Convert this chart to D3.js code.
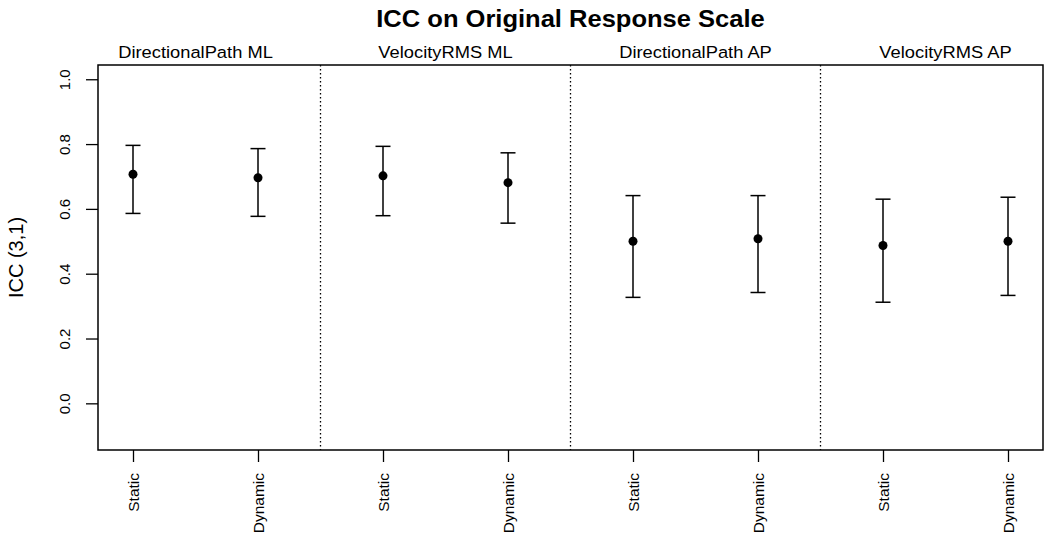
<!DOCTYPE html>
<html>
<head>
<meta charset="utf-8">
<script src="https://cdn.jsdelivr.net/npm/d3@7"></script>
<style>
  body { margin: 0; background: #fff; }
  text { font-family: "Liberation Sans", Arial, Helvetica, sans-serif; fill: #000; }
</style>
</head>
<body>
<div id="vis"></div>
<script>
// Chart data
const panels = ["DirectionalPath ML", "VelocityRMS ML", "DirectionalPath AP", "VelocityRMS AP"]
const conditions = ["Static", "Dynamic", "Static", "Dynamic", "Static", "Dynamic", "Static", "Dynamic"]
const icc = [0.707, 0.696, 0.702, 0.681, 0.500, 0.508, 0.487, 0.500]
const lower = [0.586, 0.577, 0.579, 0.556, 0.327, 0.342, 0.312, 0.333]
const upper = [0.796, 0.786, 0.793, 0.773, 0.641, 0.641, 0.630, 0.636]
const yTicks = [0.0, 0.2, 0.4, 0.6, 0.8, 1.0]
const dividers = [2.5, 4.5, 6.5]

const W = 1050, H = 537
const box = {left: 98, top: 65, right: 1043, bottom: 450}

// R style 4% padding around xlim c(1,8) and ylim c(-0.1,1)
const x = d3.scaleLinear().domain([0.72, 8.28]).range([box.left, box.right])
const y = d3.scaleLinear().domain([-0.144, 1.044]).range([box.bottom, box.top])

const svg = d3.select("#vis").append("svg")
    .attr("width", W)
    .attr("height", H)

// horizontal text in the original is slightly wider than Arial
const stretch = 1.11

// title
svg.append("text")
    .attr("transform", `translate(${(box.left + box.right) / 2},27) scale(${stretch},1)`)
    .attr("text-anchor", "middle")
    .style("font-size", "23px")
    .style("font-weight", "bold")
    .text("ICC on Original Response Scale")

// panel labels
svg.selectAll(".panel")
    .data(panels)
    .enter()
    .append("text")
    .attr("transform", (d, i) => `translate(${x(2 * i + 1.5)},58) scale(${stretch},1)`)
    .attr("text-anchor", "middle")
    .style("font-size", "16.5px")
    .text(d => d)

// y axis
const yAxis = d3.axisLeft(y).tickValues(yTicks).tickFormat(d3.format(".1f")).tickSize(12).tickSizeOuter(0)
const gy = svg.append("g")
    .attr("transform", `translate(${box.left},0)`)
    .call(yAxis)
gy.select(".domain").remove()
gy.selectAll(".tick line").attr("stroke", "#000").attr("stroke-width", 1.3)
gy.selectAll(".tick text")
    .attr("x", 0).attr("y", 0)
    .attr("dy", null)
    .attr("text-anchor", "middle")
    .attr("transform", "translate(-34,0) rotate(-90)")
    .attr("dominant-baseline", "central")
    .style("font-size", "15px")

// x axis
const xAxis = d3.axisBottom(x).tickValues(d3.range(1, 9)).tickFormat((d, i) => conditions[i]).tickSize(12).tickSizeOuter(0)
const gx = svg.append("g")
    .attr("transform", `translate(0,${box.bottom})`)
    .call(xAxis)
gx.select(".domain").remove()
gx.selectAll(".tick line").attr("stroke", "#000").attr("stroke-width", 1.3)
gx.selectAll(".tick text")
    .attr("x", 0).attr("y", 0)
    .attr("dy", null)
    .attr("text-anchor", "end")
    .attr("dominant-baseline", "central")
    .attr("transform", "translate(0,23) rotate(-90)")
    .style("font-size", "15.5px")

svg.append("text")
    .attr("transform", `translate(16,${(box.top + box.bottom) / 2}) rotate(-90)`)
    .attr("text-anchor", "middle")
    .attr("dominant-baseline", "central")
    .style("font-size", "20px")
    .text("ICC (3,1)")

// dotted dividers between measures
svg.selectAll(".divider")
    .data(dividers)
    .enter()
    .append("line")
    .attr("x1", d => x(d)).attr("x2", d => x(d))
    .attr("y1", box.top).attr("y2", box.bottom)
    .attr("stroke", "#000")
    .attr("stroke-width", 1.3)
    .attr("stroke-dasharray", "1.5,2.5")

// error bars
const idx = d3.range(icc.length)
svg.selectAll(".bar")
    .data(idx)
    .enter()
    .append("line")
    .attr("x1", i => x(i + 1)).attr("x2", i => x(i + 1))
    .attr("y1", i => y(lower[i])).attr("y2", i => y(upper[i]))
    .attr("stroke", "#000").attr("stroke-width", 1.5)

const capW = 7.5
;[lower, upper].forEach(arr => {
    svg.selectAll(null)
        .data(idx)
        .enter()
        .append("line")
        .attr("x1", i => x(i + 1) - capW).attr("x2", i => x(i + 1) + capW)
        .attr("y1", i => y(arr[i])).attr("y2", i => y(arr[i]))
        .attr("stroke", "#000").attr("stroke-width", 1.5)
})

svg.selectAll("circle")
    .data(idx)
    .enter()
    .append("circle")
    .attr("cx", i => x(i + 1))
    .attr("cy", i => y(icc[i]))
    .attr("r", 4.5)
    .attr("fill", "#000")

// plot box
svg.append("rect")
    .attr("x", box.left).attr("y", box.top)
    .attr("width", box.right - box.left)
    .attr("height", box.bottom - box.top)
    .attr("fill", "none")
    .attr("stroke", "#000")
    .attr("stroke-width", 1.5)
</script>
</body>
</html>
